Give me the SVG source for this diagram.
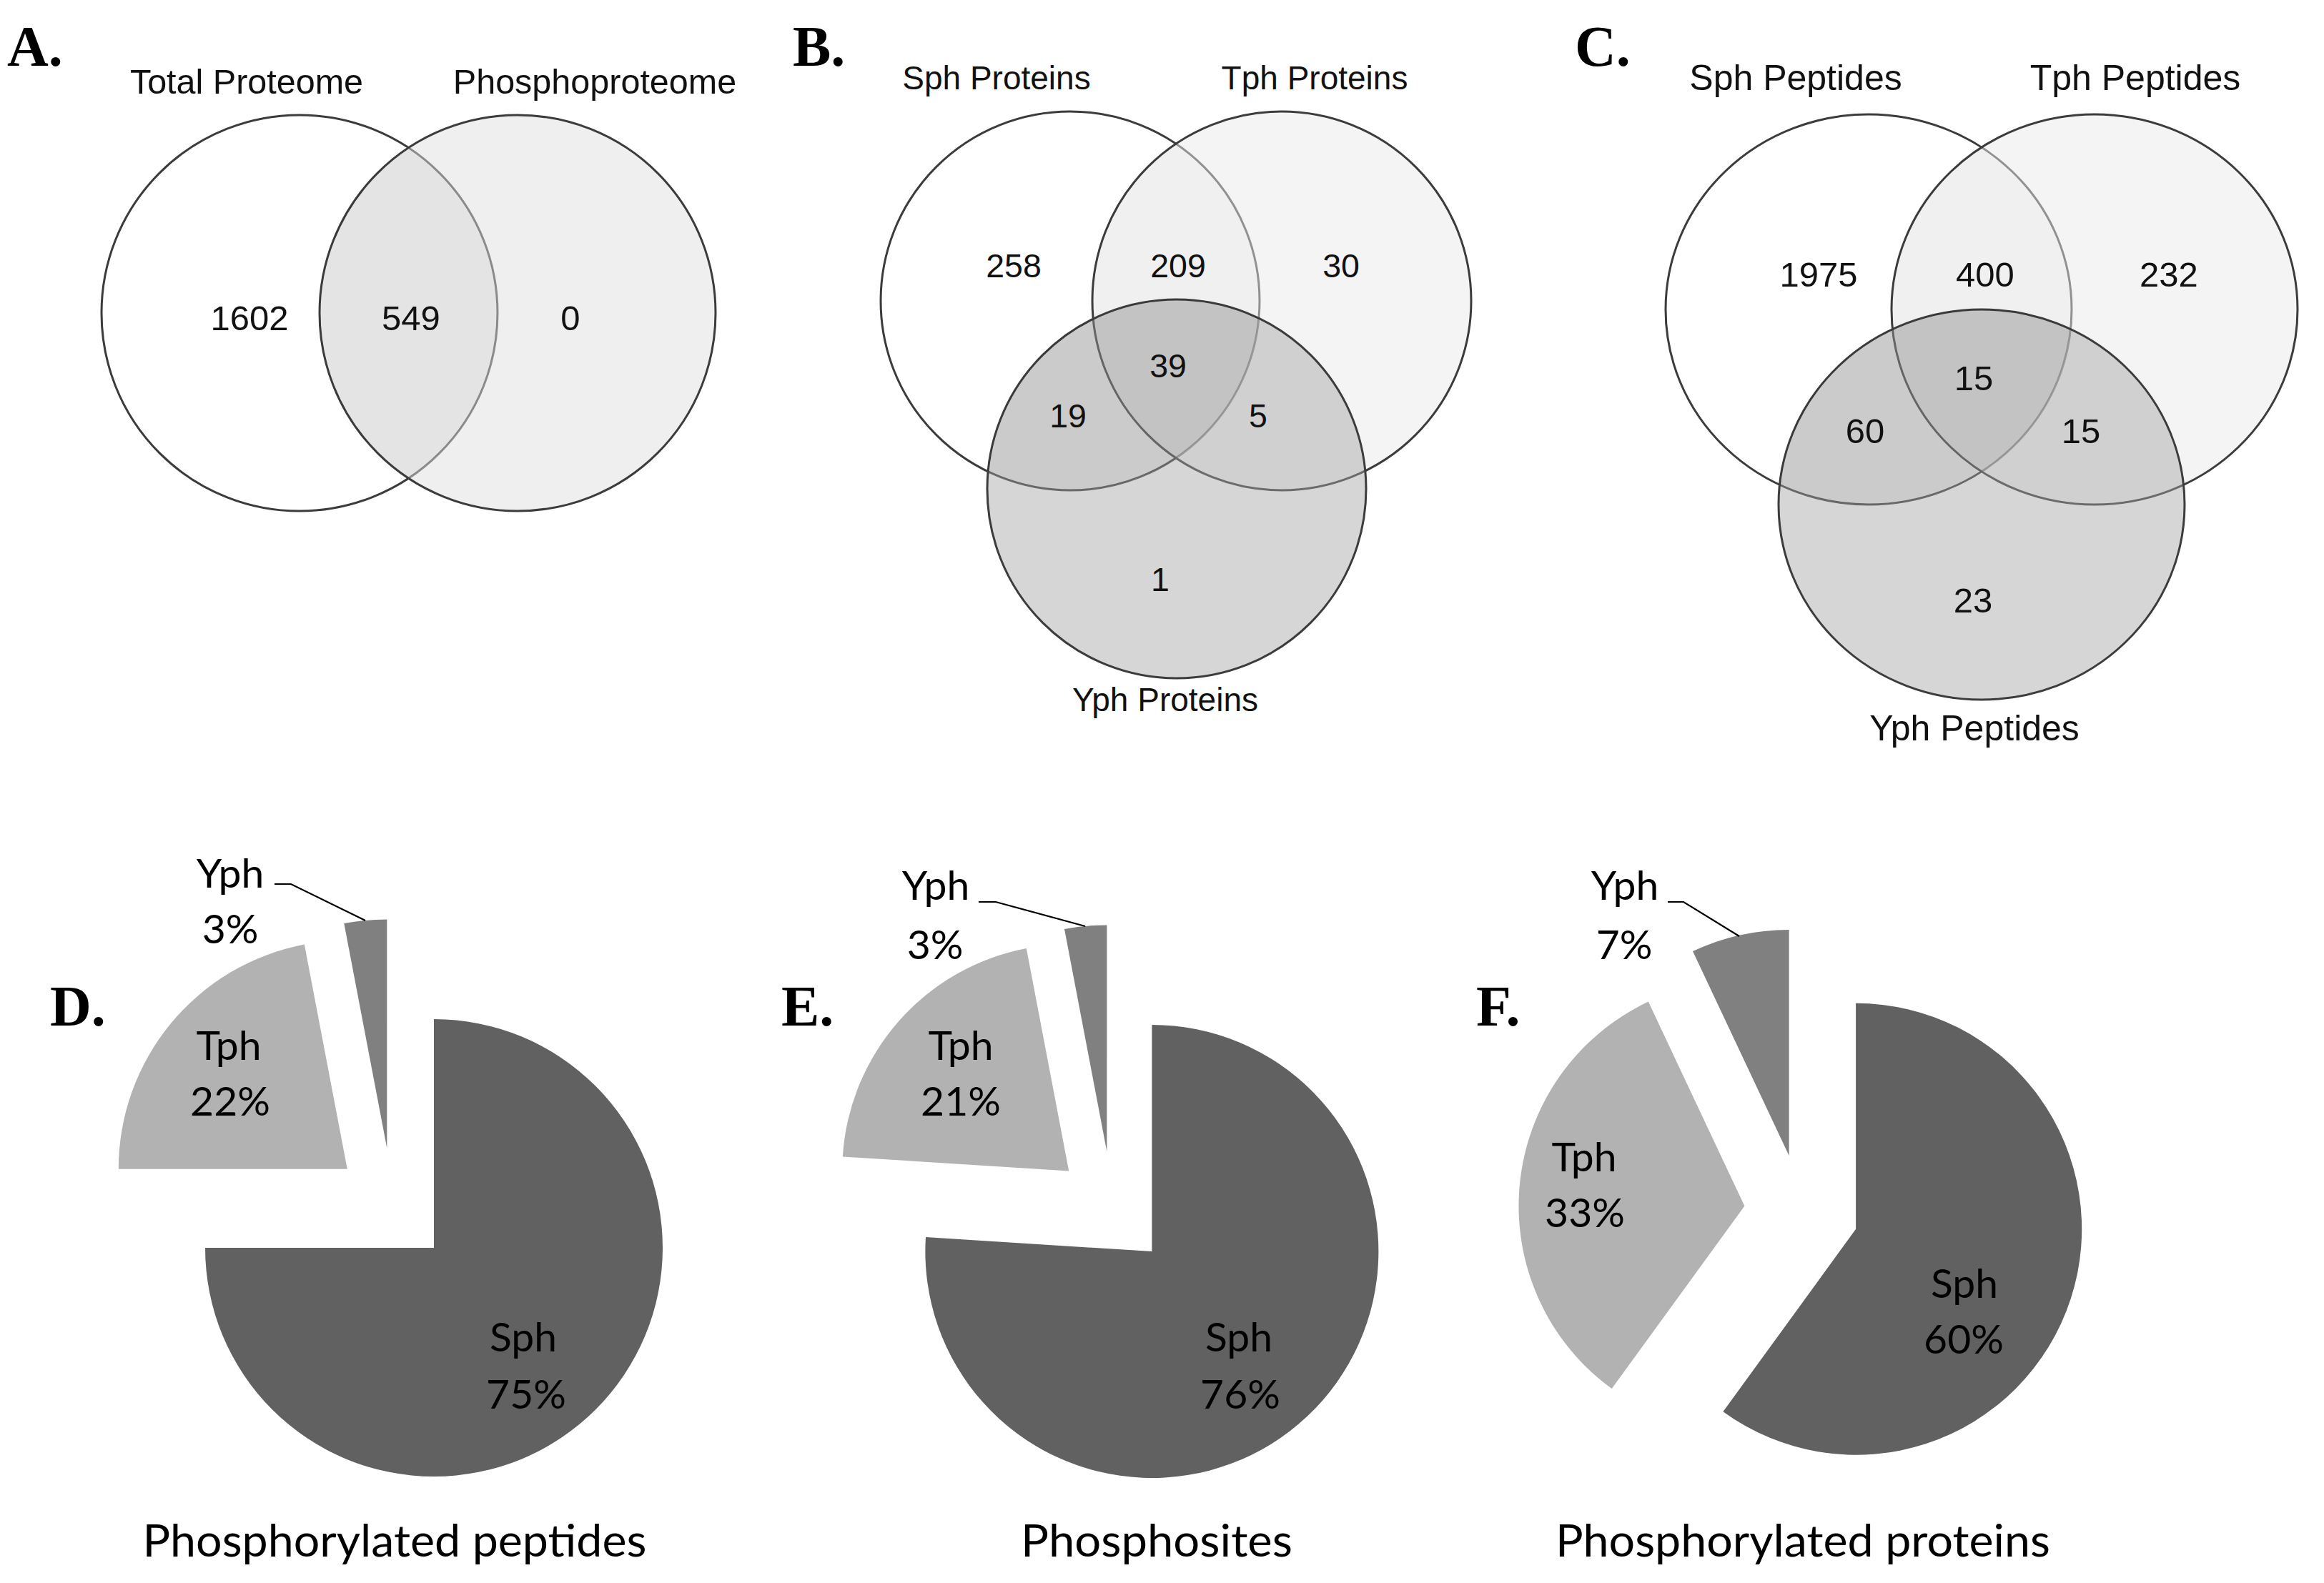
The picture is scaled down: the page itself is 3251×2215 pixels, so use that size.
<svg xmlns="http://www.w3.org/2000/svg" width="3251" height="2215" viewBox="0 0 3251 2215">
<style>
.bg{fill:#fff}
.lbl{font-family:"Liberation Serif","Times New Roman",serif;font-weight:bold;font-size:80px;fill:#000}
.vt{font-family:"Liberation Sans",Arial,sans-serif;fill:#111;text-anchor:middle}
.vs{stroke:#3c3c3c;stroke-width:3}
.pt{font-family:Lato,"Open Sans",sans-serif;font-size:57px;fill:#000;text-anchor:middle}
.cap{font-family:Lato,"Open Sans",sans-serif;font-size:61px;fill:#000;text-anchor:middle}
.sph{fill:#616161}
.tph{fill:#b2b2b2}
.yph{fill:#808080}
.lead{fill:none;stroke:#000;stroke-width:2.2}
</style>
<defs>
<clipPath id="cAL"><circle cx="419" cy="438" r="277"/></clipPath>
<clipPath id="cBS"><circle cx="1497" cy="421" r="265"/></clipPath>
<clipPath id="cCS"><ellipse cx="2614" cy="433" rx="284" ry="273"/></clipPath>
</defs>
<rect class="bg" x="0" y="0" width="3251" height="2215"/>

<g id="panelA">
<text class="lbl" x="10" y="92">A.</text>
<g id="A-total">
<circle class="vs" cx="419" cy="438" r="277" fill="#fff"/>
<text class="vt" x="345" y="131" font-size="48.5">Total Proteome</text>
<text class="vt" x="349" y="462" font-size="49">1602</text>
</g>
<g id="A-phospho">
<circle class="vs" cx="724" cy="438" r="277" fill="#dfdfdf" fill-opacity="0.5"/>
<circle cx="724" cy="438" r="277" fill="#000" fill-opacity="0.045" clip-path="url(#cAL)"/>
<text class="vt" x="832" y="131" font-size="48.5">Phosphoproteome</text>
<text class="vt" x="575" y="462" font-size="49">549</text>
<text class="vt" x="798" y="462" font-size="49">0</text>
</g>
</g>

<g id="panelB">
<text class="lbl" x="1109" y="92">B.</text>
<g id="B-sph">
<circle class="vs" cx="1497" cy="421" r="265" fill="#fff"/>
<text class="vt" x="1394" y="125" font-size="46">Sph Proteins</text>
</g>
<g id="B-tph">
<circle class="vs" cx="1793" cy="421" r="265" fill="#e9e9e9" fill-opacity="0.5"/>
<circle cx="1793" cy="421" r="265" fill="#000" fill-opacity="0.016" clip-path="url(#cBS)"/>
<text class="vt" x="1839" y="125" font-size="46">Tph Proteins</text>
</g>
<g id="B-yph">
<circle class="vs" cx="1646" cy="684" r="265" fill="#a5a5a5" fill-opacity="0.455"/>
<circle cx="1646" cy="684" r="265" fill="#000" fill-opacity="0.05" clip-path="url(#cBS)"/>
<text class="vt" x="1630" y="995" font-size="46">Yph Proteins</text>
</g>
<g id="B-counts" font-size="46.5">
<text class="vt" x="1418" y="388">258</text>
<text class="vt" x="1648" y="388">209</text>
<text class="vt" x="1876" y="388">30</text>
<text class="vt" x="1634" y="528">39</text>
<text class="vt" x="1494" y="598">19</text>
<text class="vt" x="1760" y="598">5</text>
<text class="vt" x="1623" y="827">1</text>
</g>
</g>

<g id="panelC">
<text class="lbl" x="2203" y="92">C.</text>
<g id="C-sph">
<ellipse class="vs" cx="2614" cy="433" rx="284" ry="273" fill="#fff"/>
<text class="vt" x="2512" y="126" font-size="50">Sph Peptides</text>
</g>
<g id="C-tph">
<ellipse class="vs" cx="2930" cy="433" rx="284" ry="273" fill="#e9e9e9" fill-opacity="0.5"/>
<ellipse cx="2930" cy="433" rx="284" ry="273" fill="#000" fill-opacity="0.016" clip-path="url(#cCS)"/>
<text class="vt" x="2987" y="126" font-size="50">Tph Peptides</text>
</g>
<g id="C-yph">
<ellipse class="vs" cx="2772" cy="706" rx="284" ry="273" fill="#a5a5a5" fill-opacity="0.455"/>
<ellipse cx="2772" cy="706" rx="284" ry="273" fill="#000" fill-opacity="0.05" clip-path="url(#cCS)"/>
<text class="vt" x="2762" y="1036" font-size="50">Yph Peptides</text>
</g>
<g id="C-counts" font-size="49">
<text class="vt" x="2544" y="401">1975</text>
<text class="vt" x="2777" y="401">400</text>
<text class="vt" x="3034" y="401">232</text>
<text class="vt" x="2761" y="546">15</text>
<text class="vt" x="2609" y="620">60</text>
<text class="vt" x="2911" y="620">15</text>
<text class="vt" x="2760" y="857">23</text>
</g>
</g>

<g id="panelD">
<text class="lbl" x="70" y="1435">D.</text>
<g id="D-sph"><path class="sph" d="M607,1746 L607,1426 A320,320 0 1 1 287,1746 Z"/>
<text class="pt" x="732" y="1891">Sph</text><text class="pt" x="736" y="1971">75%</text></g>
<g id="D-tph"><path class="tph" d="M485.8,1635.7 L165.8,1635.7 A320,320 0 0 1 425.8,1321.4 Z"/>
<text class="pt" x="320" y="1483">Tph</text><text class="pt" x="322" y="1561">22%</text></g>
<g id="D-yph"><path class="yph" d="M541.3,1606.4 L481.3,1292.1 A320,320 0 0 1 541.3,1286.4 Z"/>
<text class="pt" x="322" y="1242">Yph</text><text class="pt" x="322" y="1320">3%</text></g>
<text class="cap" x="552" y="2178" textLength="705" lengthAdjust="spacingAndGlyphs">Phosphorylated peptides</text>
</g>

<g id="panelE">
<text class="lbl" x="1093" y="1435">E.</text>
<g id="E-sph"><path class="sph" d="M1611.4,1751 L1611.4,1434 A317,317 0 1 1 1295,1731.1 Z"/>
<text class="pt" x="1733" y="1891">Sph</text><text class="pt" x="1735" y="1971">76%</text></g>
<g id="E-tph"><path class="tph" d="M1495.2,1638.4 L1178.8,1618.5 A317,317 0 0 1 1435.8,1327 Z"/>
<text class="pt" x="1344" y="1483">Tph</text><text class="pt" x="1344" y="1561">21%</text></g>
<g id="E-yph"><path class="yph" d="M1548.4,1611.4 L1489,1300 A317,317 0 0 1 1548.4,1294.4 Z"/>
<text class="pt" x="1309" y="1259">Yph</text><text class="pt" x="1308" y="1342">3%</text></g>
<text class="cap" x="1618" y="2178" textLength="380" lengthAdjust="spacingAndGlyphs">Phosphosites</text>
</g>

<g id="panelF">
<text class="lbl" x="2065" y="1435">F.</text>
<g id="F-sph"><path class="sph" d="M2596.1,1719.7 L2596.1,1403.7 A316,316 0 1 1 2410.4,1975.3 Z"/>
<text class="pt" x="2748" y="1816">Sph</text><text class="pt" x="2747" y="1894">60%</text></g>
<g id="F-tph"><path class="tph" d="M2440.4,1687.5 L2254.7,1943.1 A316,316 0 0 1 2305.8,1401.6 Z"/>
<text class="pt" x="2216" y="1639">Tph</text><text class="pt" x="2217" y="1717">33%</text></g>
<g id="F-yph"><path class="yph" d="M2502.6,1616.9 L2368,1331 A316,316 0 0 1 2502.6,1300.9 Z"/>
<text class="pt" x="2273" y="1259">Yph</text><text class="pt" x="2272" y="1342">7%</text></g>
<text class="cap" x="2522" y="2178" textLength="692" lengthAdjust="spacingAndGlyphs">Phosphorylated proteins</text>
</g>

<g id="connectors">
<polyline class="lead" points="384,1237 407,1237 511,1288"/>
<polyline class="lead" points="1369,1262 1393,1262 1518,1296"/>
<polyline class="lead" points="2333,1262 2355,1262 2433,1310"/>
</g>
</svg>
